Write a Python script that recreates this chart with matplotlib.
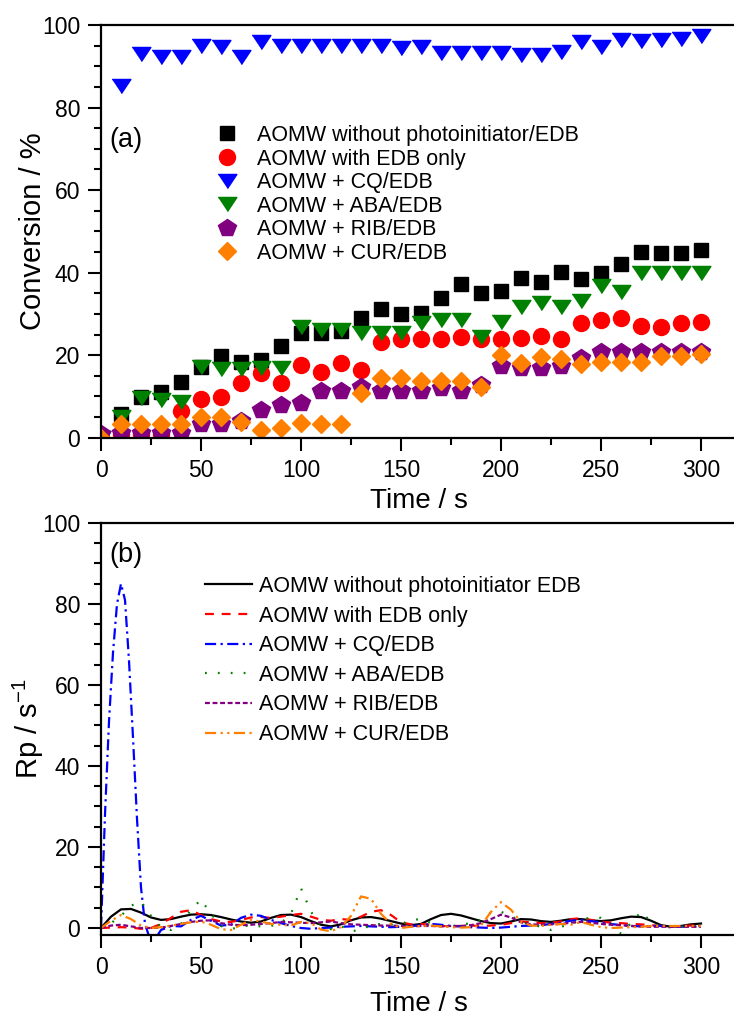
import numpy as np
import matplotlib
matplotlib.use('Agg')
import matplotlib.pyplot as plt
from matplotlib.ticker import MultipleLocator

plt.rcParams['font.family'] = ['Liberation Sans', 'DejaVu Sans']
plt.rcParams['mathtext.default'] = 'regular'

# ---- (a) conversion data, every 10 s ----
t_conv = np.arange(0, 301, 10)
conv_none = [0, 5.7, 9.9, 11.1, 13.6, 17.2, 19.8, 18.4, 18.8, 22.3, 25.3, 25.3, 25.8, 28.9, 31.3, 29.9,
             30.3, 33.9, 37.2, 35.1, 35.5, 38.6, 37.8, 40.2, 38.4, 39.8, 42.0, 45.1, 44.8, 44.7, 45.5]
conv_edb = [0, 1, 1, 1, 6.5, 9.4, 9.8, 13.2, 15.6, 13.3, 17.6, 15.8, 18.0, 16.4, 23.3, 23.8,
            23.8, 23.8, 24.5, 23.8, 23.8, 24.2, 24.6, 23.8, 27.7, 28.5, 28.9, 27.1, 26.9, 27.9, 28.1]
conv_cq = [0, 85.2, 92.9, 92.3, 92.3, 95.0, 94.7, 92.3, 96.0, 95.0, 95.0, 95.0, 95.0, 95.0, 95.0, 94.5,
           94.7, 93.1, 93.1, 93.1, 93.1, 92.7, 92.7, 93.5, 96.0, 94.7, 96.4, 96.1, 96.4, 96.6, 97.3]
conv_aba = [0, 5, 9.5, 9.1, 8.7, 17.2, 16.6, 16.6, 16.8, 16.8, 26.9, 26.1, 26.1, 25.3, 25.3, 25.3,
            27.7, 28.5, 28.5, 24.3, 28.1, 31.6, 32.6, 31.7, 33.1, 36.8, 35.4, 39.8, 39.8, 39.8, 40.0]
conv_rib = [0.8, 1.2, 1.2, 1.2, 1.2, 3.2, 3.2, 4.1, 6.7, 7.9, 8.5, 11.4, 11.4, 12.2, 11.4, 11.4,
            11.4, 12.0, 11.4, 12.8, 17.4, 16.8, 16.8, 17.4, 19.2, 20.8, 20.8, 20.8, 20.8, 20.8, 20.8]
conv_cur = [0, 3.3, 3.3, 3.3, 3.3, 4.9, 4.9, 3.9, 1.9, 2.3, 3.5, 3.3, 3.3, 10.9, 14.5, 14.5,
            13.7, 13.7, 13.7, 12.4, 20.0, 18.0, 19.6, 19.0, 17.9, 18.4, 18.4, 18.4, 19.8, 19.8, 20.2]

labels_a = ['AOMW without photoinitiator/EDB', 'AOMW with EDB only', 'AOMW + CQ/EDB',
            'AOMW + ABA/EDB', 'AOMW + RIB/EDB', 'AOMW + CUR/EDB']

# ---- (b) polymerisation rate, every 5 s (CQ finer at start) ----
t_rp = np.arange(0, 301, 5)
rp_none = [0, 2.8, 4.6, 4.7, 3.8, 2.6, 2.0, 2.2, 2.8, 3.3,
           3.4, 3.2, 2.7, 2.1, 1.6, 1.3, 1.6, 2.5, 3.2, 3.3,
           2.7, 1.7, 0.8, 0.4, 0.9, 1.9, 2.6, 2.7, 2.3, 1.7,
           1.1, 0.7, 1.0, 2.2, 3.2, 3.5, 3.1, 2.4, 1.7, 1.2,
           1.1, 1.6, 2.2, 2.1, 1.7, 1.5, 1.8, 2.2, 2.2, 1.9,
           1.7, 1.9, 2.4, 2.8, 2.7, 1.8, 0.7, 0.3, 0.5, 0.9,
           1.1]
rp_edb = [0, 0.1, 0.2, 0.1, -0.2, 0.0, 1.0, 2.5, 4.0, 4.4,
          3.2, 2.2, 1.6, 1.5, 2.0, 2.6, 2.7, 2.5, 2.8, 3.2,
          3.5, 2.8, 2.0, 1.8, 2.2, 2.0, 2.8, 4.0, 4.4, 3.2,
          1.4, 0.9, 1.0, 0.8, 0.5, 0.4, 0.5, 0.6, 0.5, 0.6,
          0.8, 1.2, 1.6, 1.4, 1.2, 1.3, 1.6, 2.2, 2.4, 2.0,
          1.6, 1.3, 1.2, 1.0, 0.9, 0.7, 0.5, 0.4, 0.5, 0.6,
          0.6]
t_cq = [0, 2, 4, 6, 8, 10, 12, 14, 16, 18, 20, 22, 24, 26, 28, 30,
        35, 40, 45, 50, 55, 60, 65, 70, 75, 80,
        85, 90, 95, 100, 105, 110, 115, 120, 125, 130,
        135, 140, 145, 150, 155, 160, 165, 170, 175, 180,
        185, 190, 195, 200, 205, 210, 215, 220, 225, 230,
        235, 240, 245, 250, 255, 260, 265, 270, 275, 280,
        285, 290, 295, 300]
rp_cq = [0, 28, 51, 68, 80, 85, 81, 66, 47, 27, 10, 1, -2, -3, -2, -0.5,
         0.5, 0.4, 2.0, 3.0, 1.8, 0.6, 0.8, 2.5, 3.3, 3.0,
         2.0, 1.2, 0.5, 0.0, -0.2, 0.0, 0.1, 0.3, 0.4, 0.5,
         0.4, 0.3, 0.2, 0.3, 0.5, 0.6, 1.0, 0.8, 0.5, 0.4,
         0.2, 0.1, 0.0, 0.1, 0.3, 0.5, 0.6, 0.7, 1.0, 1.3,
         1.8, 2.0, 1.7, 1.4, 1.0, 0.7, 0.5, 0.4, 0.5, 0.5,
         0.4, 0.3, 0.4, 0.5]
rp_aba = [0, 1.2, 3.0, 5.5, 6.5, 3.0, 0.2, -0.5, 1.0, 4.5,
          7.0, 3.5, 0.5, -0.3, 0.4, 0.6, 0.4, 0.5, 1.2, 3.5,
          9.8, 4.0, 0.6, -0.3, 0.5, -0.8, -0.5, 0.8, 1.0, 0.8,
          1.0, 1.8, 2.3, 1.2, 0.5, 0.4, 0.8, 1.2, 2.0, 3.8,
          4.0, 3.0, 1.5, 0.9, 0.3, -0.5, 0.3, 1.0, 2.0, 2.6,
          2.5, 1.0, -1.4, 1.2, 4.0, 1.5, 0.1, 0.2, 0.3, 0.4,
          0.5]
rp_rib = [0, 0.6, 0.8, 0.4, 0.0, 0.0, 0.1, 0.5, 1.0, 1.5,
          1.8, 1.9, 1.2, 0.8, 0.7, 0.8, 1.0, 1.2, 1.5, 1.4,
          1.3, 1.2, 1.4, 1.6, 1.2, 0.9, 0.8, 0.7, 0.6, 0.6,
          0.5, 0.4, 0.5, 0.5, 0.4, 0.5, 0.5, 0.7, 1.2, 2.2,
          3.3, 2.6, 1.4, 0.9, 0.8, 0.9, 1.0, 1.3, 1.5, 1.3,
          1.0, 0.8, 0.7, 0.5, 0.4, 0.3, 0.3, 0.3, 0.3, 0.3,
          0.3]
rp_cur = [0, 1.8, 3.2, 2.2, 0.6, 0.0, 0.2, 0.6, 1.0, 1.4,
          1.6, 0.8, -0.3, -0.5, 0.8, 2.0, 1.6, 1.0, 0.8, 0.6,
          1.5, 1.2, -0.4, -0.8, 0.2, 3.0, 7.8, 7.2, 3.5, 1.0,
          0.0, 0.3, 0.5, 0.6, 0.4, 0.2, 0.1, 0.2, 0.6, 4.0,
          6.4, 4.5, 1.5, 0.6, 0.5, 0.8, 1.0, 0.8, 1.5, 0.8,
          0.2, 0.0, 0.1, 0.2, 0.3, 0.5, 0.5, 0.5, 0.5, 0.5,
          0.5]

labels_b = ['AOMW without photoinitiator EDB', 'AOMW with EDB only', 'AOMW + CQ/EDB',
            'AOMW + ABA/EDB', 'AOMW + RIB/EDB', 'AOMW + CUR/EDB']

colors = ['black', '#ff0000', '#0000ff', '#008000', '#800080', '#ff8000']

W, H = 734, 1019
fig = plt.figure(figsize=(W / 100, H / 100), dpi=100)

# axes placed in pixels; right spine runs off the picture like the cropped original
x0, x1 = 101, 736
ax1 = fig.add_axes([x0 / W, 1 - 437.7 / H, (x1 - x0) / W, (437.7 - 25) / H])
ax2 = fig.add_axes([x0 / W, 1 - 935 / H, (x1 - x0) / W, (935 - 523) / H])

# flattened down-triangle like Origin's
tri = [(-1, 0.75), (1, 0.75), (0, -0.75)]

# (a) markers
marks = [('s', 10), ('o', 11.5), (tri, 13.5), (tri, 13.5), ('p', 13), ('D', 9.5)]
series_a = [conv_none, conv_edb, conv_cq, conv_aba, conv_rib, conv_cur]
for y, lab, c, (m, ms) in zip(series_a, labels_a, colors, marks):
    ax1.plot(t_conv, y, linestyle='none', marker=m, ms=ms, color=c, mec=c, label=lab)

ax1.set_ylim(0, 100)
ax1.set_ylabel('Conversion / %', fontsize=21, labelpad=-4)
ax1.text(0.013, 0.705, '(a)', transform=ax1.transAxes, fontsize=19.5)
ax1.legend(loc='upper left', bbox_to_anchor=(216 / W, 1 - 125 / H), bbox_transform=fig.transFigure,
           frameon=False, fontsize=15.5, handlelength=1.0, handletextpad=0.9,
           labelspacing=0.12, borderpad=0, borderaxespad=0, numpoints=1)

# (b) lines
styles = ['-', (0, (4, 3.5)), (0, (5, 2, 1, 2)), (0, (0.8, 5)), (0, (2.2, 1.2)), (0, (5, 2, 1, 2, 1, 2))]
series_b = [(t_rp, rp_none), (t_rp, rp_edb), (t_cq, rp_cq), (t_rp, rp_aba), (t_rp, rp_rib), (t_rp, rp_cur)]
for (tx, y), lab, c, ls in zip(series_b, labels_b, colors, styles):
    ax2.plot(tx, y, linestyle=ls, color=c, lw=1.6, label=lab)

ax2.set_ylim(-1.73, 100)
ax2.set_ylabel('Rp / s$^{-1}$', fontsize=21, labelpad=-3)
ax2.text(0.013, 0.905, '(b)', transform=ax2.transAxes, fontsize=19.5)
ax2.legend(loc='upper left', bbox_to_anchor=(205 / W, 1 - 576 / H), bbox_transform=fig.transFigure,
           frameon=False, fontsize=15.5, handlelength=2.2, handletextpad=0.33,
           labelspacing=0.40, borderpad=0, borderaxespad=0)

for ax, lp in ((ax1, 5), (ax2, 9)):
    ax.set_xlim(0, (x1 - x0) / 2)
    ax.set_xticks(np.arange(0, 301, 50))
    ax.xaxis.set_minor_locator(MultipleLocator(25))
    ax.yaxis.set_major_locator(MultipleLocator(20))
    ax.yaxis.set_minor_locator(MultipleLocator(5))
    ax.tick_params(which='major', direction='out', length=9.5, width=1.5, labelsize=16.5, pad=5.5)
    ax.tick_params(which='minor', direction='out', length=5, width=1.5)
    ax.tick_params(top=False, right=False)
    for s in ax.spines.values():
        s.set_linewidth(1.6)
    ax.set_xlabel('Time / s', fontsize=20, labelpad=lp)

fig.savefig('out.png', dpi=100)
